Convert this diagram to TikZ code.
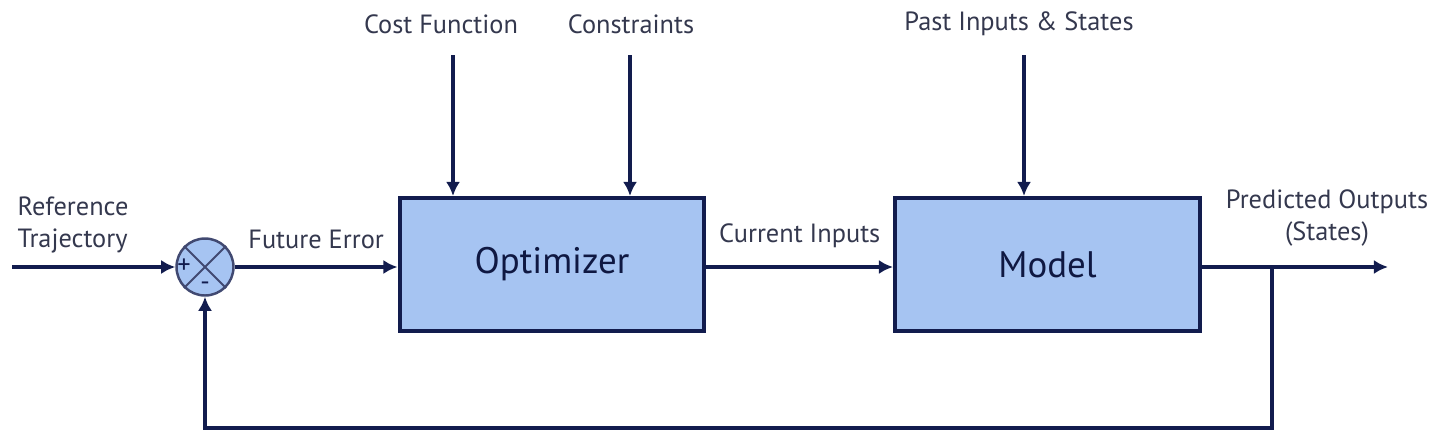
\documentclass[tikz,border=0pt]{standalone}
\usepackage{fontspec}
\setmainfont{PT Sans}
\usetikzlibrary{arrows.meta, positioning, shapes}
\definecolor{NavyLine}{RGB}{18,28,78}
\definecolor{BlockBlue}{RGB}{166,196,242}
\definecolor{LabelGray}{RGB}{52,56,78}

\begin{document}
\begin{tikzpicture}[x=0.02cm, y=-0.02cm,
          block/.style={rectangle, draw=NavyLine, fill=BlockBlue, line width=2.3pt, minimum width=6.1cm, minimum height=2.66cm, font=\fontsize{21}{24}\selectfont, text=NavyLine!85!black},
          sumnode/.style={circle, draw=NavyLine!80, fill=BlockBlue, line width=1.4pt, minimum size=1.14cm, inner sep=0pt},
          arrow/.style={-{Latex[length=8pt, width=8pt]}, line width=2.3pt, NavyLine},
          label/.style={font=\fontsize{15}{18}\selectfont, text=LabelGray, inner sep=1pt}
        ]
          \useasboundingbox (0,0) rectangle (1434,436);

          \node (sum) [sumnode] at (205,267) {};
          \draw [NavyLine!80, line width=1.2pt] (sum.north west) -- (sum.south east) (sum.north east) -- (sum.south west);
          \node [font=\fontsize{15}{15}\selectfont, text=NavyLine] at (184,266) {+};
          \node [font=\fontsize{15}{15}\selectfont, text=NavyLine] at (205,286) {-};

          \node (optimizer) [block] at (552,264.5) {Optimizer};
          \node (model) [block] at (1047.5,264.5) {Model};

          \node (reference) [label, align=left] at (73,225) {Reference\\Trajectory};
          \node (cost) [label] at (441,24) {Cost Function};
          \node (constraints) [label] at (631,24) {Constraints};
          \node (past) [label] at (1019,24) {Past Inputs \& States};
          \node (predicted) [label, align=center] at (1327,218) {Predicted Outputs\\(States)};

          \coordinate (start) at (12,267);
          \coordinate (costin) at (453,55);
          \coordinate (consin) at (630,55);
          \coordinate (pastin) at (1024,55);
          \coordinate (branch) at (1272,267);
          \coordinate (out) at (1388,267);

          \draw [arrow] (start) -- (sum);
          \draw [arrow] (sum) -- node[label, above=8pt] {Future Error} (optimizer.west |- sum);
          \draw [arrow] (optimizer.east |- sum) -- node[label, above=9pt] {Current Inputs} (model.west |- sum);
          \draw [arrow] (model.east |- sum) -- (out);
          \draw [arrow] (costin) -- (costin |- optimizer.north);
          \draw [arrow] (consin) -- (consin |- optimizer.north);
          \draw [arrow] (pastin) -- (pastin |- model.north);
          \draw [arrow] (branch) -- (branch |- 0,428) -| (sum.south);
        \end{tikzpicture}
\end{document}
